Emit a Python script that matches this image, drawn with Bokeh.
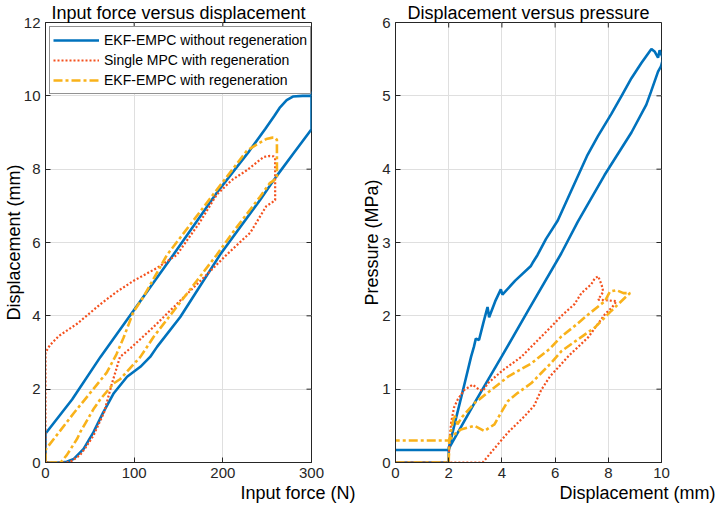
from bokeh.plotting import figure
from bokeh.models import Range1d, Legend, LegendItem, FixedTicker, Title
from bokeh.layouts import row
from bokeh.embed import file_html
from bokeh.resources import INLINE

# ---------------- data ----------------
legend_labels = ["EKF-EMPC without regeneration",
                 "Single MPC with regeneration",
                 "EKF-EMPC with regeneration"]

left_title = "Input force versus displacement"
right_title = "Displacement versus pressure"
left_xlabel = "Input force (N)"
left_ylabel = "Displacement (mm)"
right_xlabel = "Displacement (mm)"
right_ylabel = "Pressure (MPa)"

left_xrange = (0, 300)
left_yrange = (0, 12)
right_xrange = (0, 10)
right_yrange = (0, 6)
left_xticks = [0, 100, 200, 300]
left_yticks = [0, 2, 4, 6, 8, 10, 12]
right_xticks = [0, 2, 4, 6, 8, 10]
right_yticks = [0, 1, 2, 3, 4, 5, 6]

# Left panel: input force (N) vs displacement (mm)
force_blue = [0, 0, 1, 30, 62, 99, 144, 193, 230, 248, 258, 264, 272, 279, 290, 300, 300, 300,
              280, 260, 242, 197, 152, 126, 118, 107, 92, 77, 65, 54, 43, 32, 24, 17, 0]
disp_blue = [0, 0.8, 0.82, 1.72, 2.88, 4.13, 5.66, 7.35, 8.5, 9.1, 9.45, 9.67, 9.88, 9.98, 10.0, 10.0, 10.12, 9.09,
             8.44, 7.79, 7.16, 5.67, 3.97, 3.16, 2.88, 2.61, 2.34, 1.89, 1.36, 0.82, 0.37, 0.1, 0.02, 0, 0]

force_red = [0, 0, 5, 15, 36, 62, 80, 99, 126, 148, 174, 193, 210, 227, 240, 246, 252, 257, 259, 259,
             249, 231, 204, 185, 167, 145, 122, 96, 84, 75, 66, 54, 45, 39, 30, 24, 0]
disp_red = [0, 3.0, 3.2, 3.45, 3.79, 4.32, 4.65, 4.95, 5.31, 5.66, 6.55, 7.3, 7.7, 7.97, 8.22, 8.33, 8.36, 8.35, 8.3, 7.15,
            6.99, 6.27, 5.66, 5.2, 4.77, 4.25, 3.7, 3.12, 2.88, 2.16, 1.36, 0.73, 0.4, 0.2, 0.05, 0, 0]

force_yel = [0, 0, 32, 69, 80, 88, 99, 110, 137, 193, 227, 240, 249, 256, 259, 261, 261,
             253, 242, 212, 193, 159, 122, 107, 84, 77, 62, 54, 39, 36, 24, 17, 0]
disp_yel = [0, 0.35, 1.35, 2.45, 2.95, 3.4, 4.1, 4.5, 5.66, 7.43, 8.5, 8.7, 8.82, 8.86, 8.86, 8.8, 7.75,
            7.62, 7.25, 6.3, 5.66, 4.59, 3.43, 2.88, 2.27, 2.16, 1.73, 1.45, 0.82, 0.66, 0.2, 0, 0]

# Right panel: displacement (mm) vs pressure (MPa)
dispr_blue = [0, 2.0, 2.0, 2.06, 2.3, 2.58, 2.84, 2.95, 3.02, 3.14, 3.3, 3.46, 3.52, 3.75, 3.96, 4.02, 4.5,
              5.09, 5.15, 5.34, 5.66, 6.1, 6.5, 6.85, 7.2, 7.61, 8.11, 8.5, 8.87, 9.25, 9.62, 9.75, 9.87,
              9.93, 10.06, 9.98, 9.87, 9.6, 9.43, 8.87, 7.86, 6.85, 6.23, 5.0, 4.0, 3.0, 2.05, 2.0, 0]
press_blue = [0, 0, 0.2, 0.28, 0.64, 1.05, 1.44, 1.58, 1.69, 1.67, 1.9, 2.12, 1.98, 2.2, 2.36, 2.29, 2.48,
              2.68, 2.72, 2.83, 3.05, 3.3, 3.62, 3.9, 4.18, 4.45, 4.75, 5.0, 5.24, 5.45, 5.64, 5.6, 5.52,
              5.62, 5.51, 5.4, 5.33, 5.05, 4.88, 4.5, 3.92, 3.28, 2.85, 2.08, 1.45, 0.83, 0.22, 0.17, 0.17]

dispr_red = [0, 2.0, 2.03, 2.09, 2.2, 2.34, 2.59, 2.9, 3.16, 3.3, 3.47, 4.04, 4.73, 5.3, 5.85, 6.24, 6.73,
             6.99, 7.36, 7.49, 7.62, 7.75, 7.81, 7.62, 8.0, 8.31, 8.15, 7.87, 7.25, 6.5, 5.8, 5.48, 5.22,
             4.85, 4.23, 3.6, 3.28, 0]
press_red = [0, 0, 0.3, 0.54, 0.75, 0.86, 0.99, 1.06, 0.99, 0.98, 1.08, 1.26, 1.44, 1.65, 1.85, 2.0, 2.16,
             2.31, 2.43, 2.51, 2.54, 2.42, 2.33, 2.22, 2.21, 2.2, 2.12, 2.02, 1.71, 1.45, 1.17, 0.99, 0.78,
             0.63, 0.41, 0.14, 0, 0]

dispr_yel = [0, 2.0, 2.02, 2.1, 2.21, 2.33, 2.5, 2.97, 3.6, 4.23, 5.1, 5.8, 6.24, 6.8, 7.25, 7.87, 8.06,
             8.31, 8.57, 8.82, 8.69, 8.12, 7.49, 6.24, 5.86, 5.48, 5.1, 4.6, 4.23, 3.97, 3.72, 3.34, 2.97,
             2.46, 2.2, 2.02, 0]
press_yel = [0, 0, 0.3, 0.45, 0.65, 0.52, 0.62, 0.81, 0.99, 1.17, 1.35, 1.55, 1.72, 1.88, 2.02, 2.2, 2.33,
             2.35, 2.31, 2.31, 2.27, 2.07, 1.84, 1.52, 1.36, 1.22, 1.08, 0.95, 0.84, 0.68, 0.52, 0.43, 0.5,
             0.45, 0.38, 0.3, 0.3]

# ---------------- style ----------------
FONT = "Liberation Sans"
BLUE = "#0072BD"
RED = "#F4511E"
YEL = "#F9B21A"
AXC = "#262626"
GRID = "#dfdfdf"
H = 504
TOP, BOTTOM = 20, 42
TICK_PX = 5


def style_axis(ax, ticks, standoff):
    ax.ticker = FixedTicker(ticks=ticks)
    ax.axis_line_color = AXC
    ax.axis_line_width = 1
    ax.major_tick_line_color = AXC
    ax.major_tick_in = TICK_PX
    ax.major_tick_out = 0
    ax.minor_tick_line_color = None
    ax.major_label_text_font = FONT
    ax.major_label_text_color = AXC
    ax.major_label_standoff = standoff
    ax.major_label_text_font_size = "15px"


def make_fig(width, xr, yr, xt, yt, left, right, title, ylabel, xlabel, xlabel_offset, frame_px):
    p = figure(width=width, height=H, x_range=Range1d(*xr), y_range=Range1d(*yr),
               output_backend="svg", toolbar_location=None,
               min_border_left=left, min_border_right=right,
               min_border_top=TOP, min_border_bottom=BOTTOM, title=title)
    p.title.text_font = FONT
    p.title.text_font_size = "18px"
    p.title.text_font_style = "normal"
    p.title.text_color = "#000000"
    p.title.align = "center"
    p.title.standoff = 0
    p.title.offset = 0
    p.outline_line_color = AXC
    p.background_fill_color = "white"
    p.border_fill_color = "white"
    style_axis(p.xaxis[0], xt, 5)
    style_axis(p.yaxis[0], yt, 5)
    ya = p.yaxis[0]
    ya.axis_label = ylabel
    ya.axis_label_text_font = FONT
    ya.axis_label_text_font_size = "18px"
    ya.axis_label_text_font_style = "normal"
    ya.axis_label_text_color = "#000000"
    ya.axis_label_standoff = -3
    p.xgrid.ticker = FixedTicker(ticks=xt)
    p.ygrid.ticker = FixedTicker(ticks=yt)
    p.xgrid.grid_line_color = GRID
    p.ygrid.grid_line_color = GRID
    xt_title = Title(text=xlabel, align="right", offset=xlabel_offset, standoff=0,
                     text_font=FONT, text_font_size="18px", text_font_style="normal",
                     text_color="#000000")
    p.add_layout(xt_title, "below")
    # inward tick marks on the top and right edges of the box (as in the original)
    fw, fh = frame_px
    dy = (yr[1] - yr[0]) * TICK_PX / fh
    dx = (xr[1] - xr[0]) * TICK_PX / fw
    p.segment(x0=xt, y0=[yr[1]] * len(xt), x1=xt, y1=[yr[1] - dy] * len(xt),
              line_color=AXC, line_width=1)
    p.segment(x0=[xr[1]] * len(yt), y0=yt, x1=[xr[1] - dx] * len(yt), y1=yt,
              line_color=AXC, line_width=1)
    return p


def add_lines(p, xs, ys):
    rb = p.line(xs[0], ys[0], line_color=BLUE, line_width=2.6)
    rr = p.line(xs[1], ys[1], line_color=RED, line_width=2.2, line_dash="2 2")
    ry = p.line(xs[2], ys[2], line_color=YEL, line_width=2.6, line_dash="9 3 3 3")
    return [rb, rr, ry]


# left figure: canvas 0..357, frame ~45..312
p1 = make_fig(357, left_xrange, left_yrange, left_xticks, left_yticks, 45, 46,
              left_title, left_ylabel, left_xlabel, -44, (267, 438))
r1 = add_lines(p1, [force_blue, force_red, force_yel], [disp_blue, disp_red, disp_yel])
legend = Legend(items=[LegendItem(label=l, renderers=[r]) for l, r in zip(legend_labels, r1)],
                location="top_left", label_text_font=FONT, label_text_font_size="14px",
                label_text_color="#000000", glyph_width=46, glyph_height=20, label_height=20,
                spacing=0, padding=3, margin=4, label_standoff=5,
                border_line_color=AXC, border_line_width=1, background_fill_color="white",
                background_fill_alpha=1.0)
p1.add_layout(legend)

# right figure: canvas 357..718, frame ~397..661
p2 = make_fig(361, right_xrange, right_yrange, right_xticks, right_yticks, 38, 57,
              right_title, right_ylabel, right_xlabel, -54, (264, 438))
add_lines(p2, [dispr_blue, dispr_red, dispr_yel], [press_blue, press_red, press_yel])

layout = row(p1, p2)
open("out.html", "w").write(file_html(layout, INLINE))
